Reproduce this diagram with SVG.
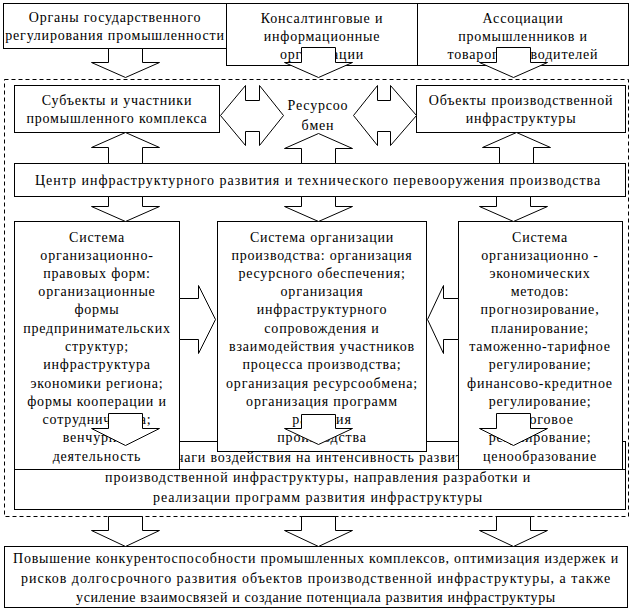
<svg xmlns="http://www.w3.org/2000/svg" width="633" height="615" viewBox="0 0 633 615" font-family="'Liberation Serif', 'Times New Roman', serif">
<style>
.b{fill:#fff;stroke:#000;stroke-width:1}
.a{fill:#fff;stroke:#000;stroke-width:1}
.d{fill:none;stroke:#000;stroke-width:1;stroke-dasharray:4 3}
text{font-family:'Liberation Serif','Times New Roman',serif;font-size:14px;letter-spacing:0.8px;fill:#000;text-anchor:middle}
</style>
<rect width="633" height="615" fill="#fff"/>
<rect class="d" x="4.5" y="79.5" width="624" height="437"/>
<g id="n-organy"><rect class="b" x="3.5" y="3.5" width="223" height="45"/><text x="115" y="22">Органы государственного</text><text x="115" y="40">регулирования промышленности</text></g>
<g id="n-konsalt"><rect class="b" x="226.5" y="3.5" width="191" height="62"/><text x="322" y="23">Консалтинговые и</text><text x="322" y="41">информационные</text><text x="322" y="59">организации</text></g>
<g id="n-assoc"><rect class="b" x="417.5" y="3.5" width="211" height="62"/><text x="523" y="23">Ассоциации</text><text x="523" y="41">промышленников и</text><text x="523" y="59">товаропроизводителей</text></g>
<g id="n-subj"><rect class="b" x="14.5" y="85.5" width="205" height="47"/><text x="117" y="105">Субъекты и участники</text><text x="117" y="123">промышленного комплекса</text></g>
<g id="n-obj"><rect class="b" x="416.5" y="85.5" width="209" height="47"/><text x="521" y="105">Объекты производственной</text><text x="521" y="123">инфраструктуры</text></g>
<g id="n-resurs"><text x="318" y="110">Ресурсоо</text><text x="318" y="130">бмен</text></g>
<g id="n-centr"><rect class="b" x="14.5" y="163.5" width="611" height="33"/><text x="318" y="185" textLength="566" lengthAdjust="spacing">Центр инфраструктурного развития и технического перевооружения производства</text></g>
<g id="n-rychagi"><rect class="b" x="14.5" y="441.5" width="611" height="68"/><line x1="14" y1="469.5" x2="626" y2="469.5" stroke="#000"/><text x="318" y="462">Рычаги воздействия на интенсивность развития</text><text x="318" y="482" textLength="426" lengthAdjust="spacing">производственной инфраструктуры, направления разработки и</text><text x="318" y="502" textLength="330" lengthAdjust="spacing">реализации программ развития инфраструктуры</text></g>
<g id="n-col1"><rect class="b" x="14.5" y="221.5" width="165" height="248"/>
<text x="97" y="242">Система</text><text x="97" y="260">организационно-</text><text x="97" y="278">правовых форм:</text><text x="97" y="296">организационные</text><text x="97" y="314">формы</text><text x="97" y="333">предпринимательских</text><text x="97" y="351">структур;</text><text x="97" y="369">инфраструктура</text><text x="97" y="388">экономики региона;</text><text x="97" y="406">формы кооперации и</text><text x="97" y="424">сотрудничества;</text><text x="97" y="442">венчурная</text><text x="97" y="461">деятельность</text></g>
<g id="n-col2"><rect class="b" x="217.5" y="221.5" width="209" height="230"/>
<text x="322" y="242">Система организации</text><text x="322" y="260">производства: организация</text><text x="322" y="278">ресурсного обеспечения;</text><text x="322" y="296">организация</text><text x="322" y="314">инфраструктурного</text><text x="322" y="333">сопровождения и</text><text x="322" y="351">взаимодействия участников</text><text x="322" y="369">процесса производства;</text><text x="322" y="388">организация ресурсообмена;</text><text x="322" y="406">организация программ</text><text x="322" y="424">развития</text><text x="322" y="442">производства</text></g>
<g id="n-col3"><rect class="b" x="458.5" y="221.5" width="164" height="248"/>
<text x="540" y="242">Система</text><text x="540" y="260">организационно -</text><text x="540" y="278">экономических</text><text x="540" y="296">методов:</text><text x="540" y="314">прогнозирование,</text><text x="540" y="333">планирование;</text><text x="540" y="351">таможенно-тарифное</text><text x="540" y="369">регулирование;</text><text x="540" y="388">финансово-кредитное</text><text x="540" y="406">регулирование;</text><text x="540" y="424">налоговое</text><text x="540" y="442">регулирование;</text><text x="540" y="461">ценообразование</text></g>
<g id="n-result"><rect class="b" x="4.5" y="546.5" width="623" height="61"/><text x="316" y="563" textLength="606" lengthAdjust="spacing">Повышение конкурентоспособности промышленных комплексов, оптимизация издержек и</text><text x="316" y="583" textLength="590" lengthAdjust="spacing">рисков долгосрочного развития объектов производственной инфраструктуры, а также</text><text x="316" y="602" textLength="480" lengthAdjust="spacing">усиление взаимосвязей и создание потенциала развития инфраструктуры</text></g>
<g id="connectors">
<polygon class="a" points="108.5,48.5 142.5,48.5 142.5,62.5 159.5,62.5 125.5,77.5 91.5,62.5 108.5,62.5"/>
<polygon class="a" points="301.5,47.5 335.5,47.5 335.5,62.5 352.5,62.5 318.5,77.5 284.5,62.5 301.5,62.5"/>
<polygon class="a" points="496.5,47.5 530.5,47.5 530.5,62.5 547.5,62.5 513.5,77.5 479.5,62.5 496.5,62.5"/>
<polygon class="a" points="220.5,115.5 245.5,85.5 245.5,100.5 259.5,100.5 259.5,85.5 283.5,115.5 259.5,145.5 259.5,131.5 245.5,131.5 245.5,145.5"/>
<polygon class="a" points="353.5,115.5 377.5,85.5 377.5,100.5 390.5,100.5 390.5,85.5 416.5,115.5 390.5,145.5 390.5,131.5 377.5,131.5 377.5,145.5"/>
<polygon class="a" points="108.5,163.5 142.5,163.5 142.5,147.5 159.5,147.5 125.5,132.5 91.5,147.5 108.5,147.5"/>
<polygon class="a" points="301.5,163.5 335.5,163.5 335.5,148.5 352.5,148.5 318.5,133.5 284.5,148.5 301.5,148.5"/>
<polygon class="a" points="499.5,163.5 533.5,163.5 533.5,147.5 550.5,147.5 516.5,132.5 482.5,147.5 499.5,147.5"/>
<polygon class="a" points="108.5,196.5 142.5,196.5 142.5,206.5 159.5,206.5 125.5,221.5 91.5,206.5 108.5,206.5"/>
<polygon class="a" points="301.5,196.5 335.5,196.5 335.5,206.5 352.5,206.5 318.5,221.5 284.5,206.5 301.5,206.5"/>
<polygon class="a" points="496.5,196.5 530.5,196.5 530.5,206.5 547.5,206.5 513.5,221.5 479.5,206.5 496.5,206.5"/>
<polygon class="a" points="179.5,298.5 198.5,298.5 198.5,285.5 215.5,319.5 198.5,353.5 198.5,339.5 179.5,339.5"/>
<polygon class="a" points="458.5,298.5 443.5,298.5 443.5,285.5 427.5,319.5 443.5,353.5 443.5,339.5 458.5,339.5"/>
<polygon class="a" points="108.5,413.5 142.5,413.5 142.5,428.5 159.5,428.5 125.5,445.5 91.5,428.5 108.5,428.5"/>
<polygon class="a" points="301.5,414.5 335.5,414.5 335.5,428.5 352.5,428.5 318.5,444.5 284.5,428.5 301.5,428.5"/>
<polygon class="a" points="496.5,413.5 530.5,413.5 530.5,428.5 547.5,428.5 513.5,445.5 479.5,428.5 496.5,428.5"/>
<polygon class="a" points="108.5,516.5 142.5,516.5 142.5,530.5 159.5,530.5 125.5,546.5 91.5,530.5 108.5,530.5"/>
<polygon class="a" points="301.5,516.5 335.5,516.5 335.5,530.5 352.5,530.5 318.5,546.5 284.5,530.5 301.5,530.5"/>
<polygon class="a" points="496.5,516.5 530.5,516.5 530.5,530.5 547.5,530.5 513.5,546.5 479.5,530.5 496.5,530.5"/>
</g>
</svg>
